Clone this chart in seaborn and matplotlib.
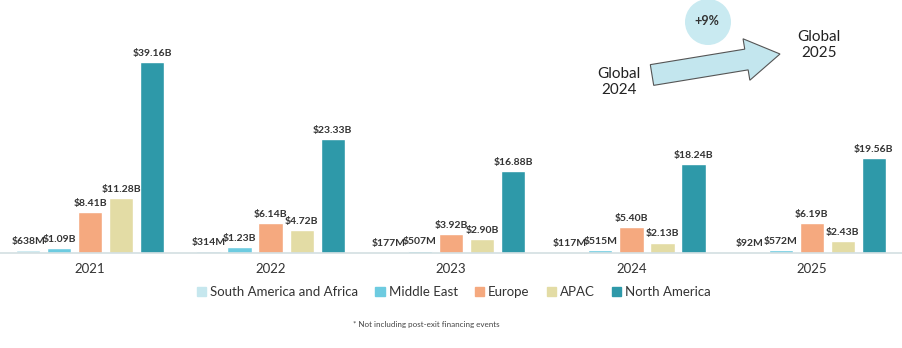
import matplotlib
matplotlib.use("Agg")
import matplotlib.pyplot as plt
import matplotlib.patches as mpatches
from matplotlib.transforms import IdentityTransform
import seaborn as sns
import pandas as pd

years = ["2021", "2022", "2023", "2024", "2025"]
regions = ["South America and Africa", "Middle East", "Europe", "APAC", "North America"]
south_america_africa = [0.638, 0.314, 0.177, 0.117, 0.092]
middle_east = [1.09, 1.23, 0.507, 0.515, 0.572]
europe = [8.41, 6.14, 3.92, 5.40, 6.19]
apac = [11.28, 4.72, 2.90, 2.13, 2.43]
north_america = [39.16, 23.33, 16.88, 18.24, 19.56]
colors = ["#c6e7ee", "#6dcbe0", "#f5a97f", "#e3dca5", "#2e99a9"]

series = [south_america_africa, middle_east, europe, apac, north_america]
rows = []
for r, vals in zip(regions, series):
    for y, v in zip(years, vals):
        rows.append({"year": y, "region": r, "value": v})
df = pd.DataFrame(rows)

sns.set_theme(style="white")
plt.rcParams["font.family"] = ["Lato", "DejaVu Sans"]

fig = plt.figure(figsize=(9.02, 3.48), dpi=100)
ax = fig.add_axes([0, 1 - 253 / 348, 1, 253 / 348])

sns.barplot(data=df, x="year", y="value", hue="region", hue_order=regions,
            order=years, palette=colors, width=0.86, gap=0.22, ax=ax,
            legend=False, saturation=1)

def fmt(v):
    return f"${v*1000:.0f}M" if v < 1 else f"${v:.2f}B"

for cont, vals in zip(ax.containers, series):
    ax.bar_label(cont, labels=[fmt(v) for v in vals], padding=3,
                 fontsize=7.5, fontweight="bold", color="#333333")

ax.set_ylim(0, 52.0)
ax.set_xlim(-0.5, 4.5)
ax.set_xlabel("")
ax.set_ylabel("")
ax.set_yticks([])
for s in ["top", "left", "right"]:
    ax.spines[s].set_visible(False)
ax.spines["bottom"].set_color("#d3dfe2")
ax.spines["bottom"].set_linewidth(1.2)
ax.tick_params(axis="x", length=0, pad=7.5, labelsize=9.5, labelcolor="#333333")

handles = [mpatches.Patch(color=c, label=r) for c, r in zip(colors, regions)]
fig.legend(handles=handles, loc="center", bbox_to_anchor=(454 / 902, 1 - 292 / 348),
           ncol=5, frameon=False, fontsize=9.5, handlelength=0.7, handleheight=0.7,
           handletextpad=0.3, columnspacing=1.3, labelcolor="#333333")

fig.text(426 / 902, 1 - 325 / 348, "* Not including post-exit financing events",
         ha="center", va="center", fontsize=5.8, color="#444444")

# arrow annotation
H = 348
arrow = mpatches.FancyArrow(652, H - 75, 128, 21, width=21, head_width=42,
                            head_length=34, length_includes_head=True,
                            transform=IdentityTransform(), facecolor="#c3e6ee",
                            edgecolor="#555555", linewidth=0.8)
fig.patches.append(arrow)
circle = mpatches.Circle((708, H - 22), 23, transform=IdentityTransform(),
                         facecolor="#c9eaf1", edgecolor="none")
fig.patches.append(circle)
fig.text(707 / 902, 1 - 21 / H, "+9%", ha="center", va="center", fontsize=9,
         fontweight="bold", color="#333333")
fig.text(619 / 902, 1 - 82 / H, "Global\n2024", ha="center", va="center",
         fontsize=11, color="#222222", linespacing=1.1)
fig.text(819 / 902, 1 - 45 / H, "Global\n2025", ha="center", va="center",
         fontsize=11, color="#222222", linespacing=1.1)

fig.savefig("out.png", dpi=100)
